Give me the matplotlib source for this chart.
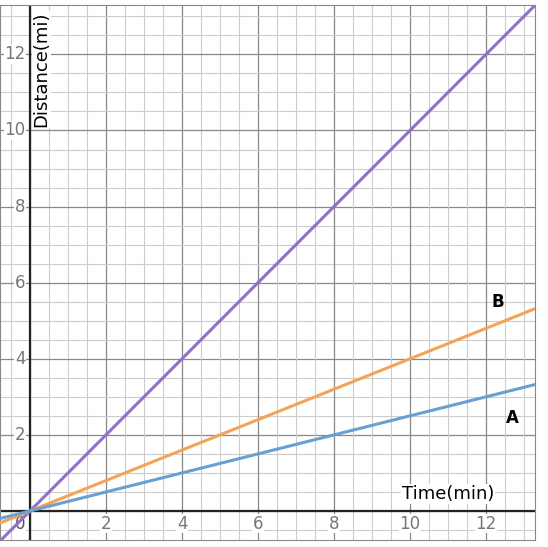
import numpy as np
import matplotlib.pyplot as plt

t = np.array([-1.0, 14.0])
slopes = [1.0, 0.4, 0.25]
colors = ['#9370c8', '#f5a25a', '#6a9fd0']
labels = ['A', 'B']
label_pos = [(12.7, 2.45), (12.3, 5.5)]
xticks = [2, 4, 6, 8, 10, 12]
yticks = [2, 4, 6, 8, 10, 12]

fig = plt.figure(figsize=(5.48, 5.47), dpi=100)
ax = fig.add_axes([0.0, 0.013, 0.977, 0.978])
ax.set_xlim(-0.79, 13.3)
ax.set_ylim(-0.76, 13.3)

for v in np.arange(-0.5, 13.6, 0.5):
    major = abs(v % 2) < 1e-9
    ax.axvline(v, color='#888' if major else '#ccc', lw=0.9 if major else 0.8, zorder=0)
    ax.axhline(v, color='#888' if major else '#ccc', lw=0.9 if major else 0.8, zorder=0)
ax.axhline(0, color='#222', lw=1.6, zorder=1)
ax.axvline(0, color='#222', lw=1.6, zorder=1)

for m, c in zip(slopes, colors):
    ax.plot(t, m * t, color=c, lw=2.2, zorder=3)

for lab, (x, y) in zip(labels, label_pos):
    ax.text(x, y, lab, fontsize=12, fontweight='heavy', ha='center', va='center')

bb = dict(facecolor='white', edgecolor='none', pad=0.5)
for x in xticks:
    ax.text(x, -0.1, str(x), ha='center', va='top', fontsize=12, color='#777', bbox=bb, zorder=2)
for y in yticks:
    ax.text(-0.12, y, str(y), ha='right', va='center', fontsize=12, color='#777', bbox=bb, zorder=2)
ax.text(-0.12, -0.1, '0', ha='right', va='top', fontsize=12, color='#555', bbox=bb, zorder=2)

ax.text(11.0, 0.45, 'Time(min)', fontsize=13, ha='center', va='center', bbox=bb, zorder=2)
ax.text(0.3, 11.6, 'Distance(mi)', fontsize=13, rotation=90, ha='center', va='center', bbox=bb, zorder=2)

ax.set_xticks([])
ax.set_yticks([])
for s in ax.spines.values():
    s.set_color('#888')
fig.savefig('out.png', dpi=100)
